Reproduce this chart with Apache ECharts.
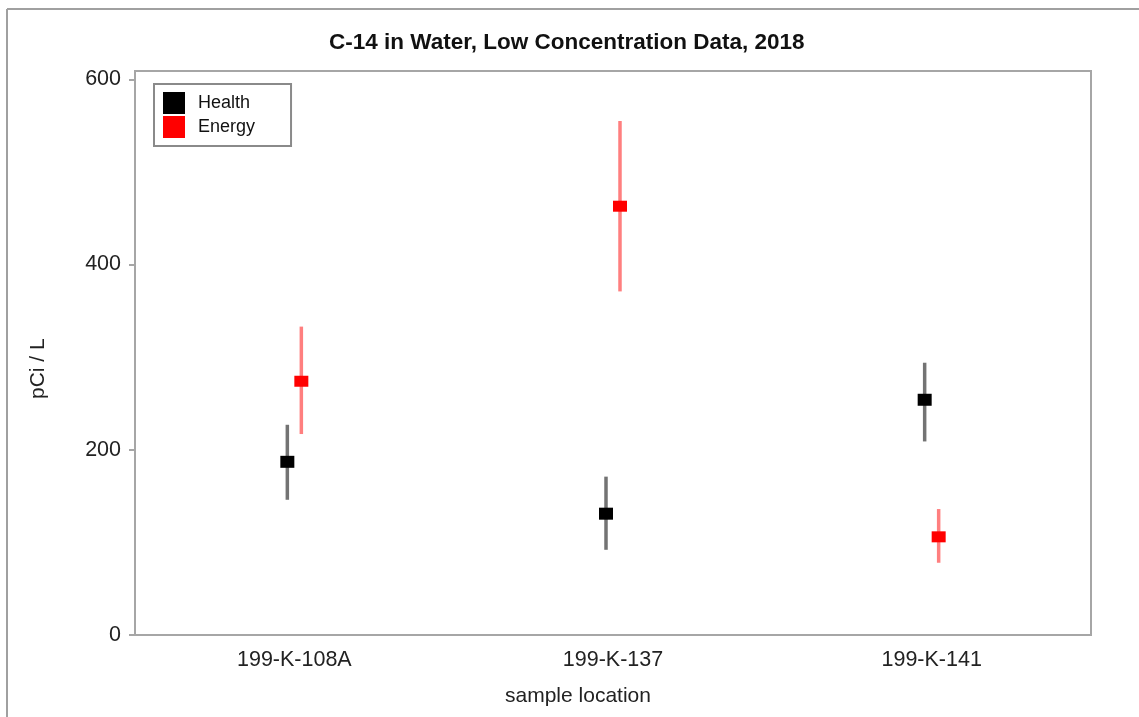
<!DOCTYPE html>
<html>
<head>
<meta charset="utf-8">
<script src="https://cdn.jsdelivr.net/npm/echarts@6/dist/echarts.min.js"></script>
<style>
html,body{margin:0;padding:0;background:#fff;}
#chart{width:1139px;height:717px;}
</style>
</head>
<body>
<div id="chart"></div>
<script>
const categories = ['199-K-108A', '199-K-137', '199-K-141'];
const healthValues = [187, 131, 254];
const healthLow = [146, 92, 209];
const healthHigh = [227, 171, 294];
const energyValues = [274, 463, 106];
const energyLow = [217, 371, 78];
const energyHigh = [333, 555, 136];
const yTicks = [0, 200, 400, 600];

const FONT = '"Liberation Sans", Arial, sans-serif';

function makeData(vals, lo, hi) {
  return vals.map((v, i) => [i, v, lo[i], hi[i]]);
}

function makeRender(offset, lineColor, fillColor, rectH) {
  return function (params, api) {
    const ci = api.value(0);
    const c = api.coord([ci, api.value(1)]);
    const lo = api.coord([ci, api.value(2)]);
    const hi = api.coord([ci, api.value(3)]);
    const x = c[0] + offset;
    return {
      type: 'group',
      children: [
        { type: 'line', shape: { x1: x, y1: hi[1], x2: x, y2: lo[1] },
          style: { stroke: lineColor, lineWidth: 3.5 } },
        { type: 'rect', shape: { x: x - 7, y: c[1] - rectH / 2, width: 14, height: rectH },
          style: { fill: fillColor } }
      ]
    };
  };
}

const chart = echarts.init(document.getElementById('chart'));
chart.setOption({
  animation: false,
  backgroundColor: '#fff',
  title: {
    text: 'C-14 in Water, Low Concentration Data, 2018',
    left: 324, top: 26,
    textStyle: { fontFamily: FONT, fontSize: 22.5, fontWeight: 'bold', color: '#111' }
  },
  legend: {
    orient: 'vertical',
    left: 154, top: 84,
    padding: [8, 36, 8, 9],
    itemWidth: 22, itemHeight: 22, itemGap: 2,
    borderColor: '#8a8a8a', borderWidth: 2,
    icon: 'rect',
    textStyle: { fontFamily: FONT, fontSize: 18, color: '#111', padding: [0, 0, 0, 8] },
    data: ['Health', 'Energy']
  },
  grid: {
    left: 135, top: 71, right: 48, bottom: 82,
    show: true, borderColor: '#a6a6a6', borderWidth: 2
  },
  xAxis: {
    type: 'category',
    data: categories,
    axisLine: { lineStyle: { color: '#a6a6a6', width: 2 } },
    axisTick: { alignWithLabel: true, length: 8, lineStyle: { color: '#a6a6a6', width: 2 } },
    axisLabel: { fontFamily: FONT, fontSize: 21.5, color: '#222', margin: 14 },
    splitLine: { show: false }
  },
  yAxis: {
    type: 'value',
    min: 0, max: 609, interval: 200,
    axisLine: { show: true, lineStyle: { color: '#a6a6a6', width: 2 } },
    axisTick: { show: true, length: 6, customValues: yTicks, lineStyle: { color: '#a6a6a6', width: 2 } },
    axisLabel: { fontFamily: FONT, fontSize: 21.5, color: '#222', margin: 14, customValues: yTicks,
      formatter: v => (yTicks.indexOf(v) >= 0 ? String(v) : '') },
    splitLine: { show: false }
  },
  graphic: [
    { type: 'line', shape: { x1: 7, y1: 9, x2: 1139, y2: 9 }, style: { stroke: '#a0a0a0', lineWidth: 2 } },
    { type: 'line', shape: { x1: 7, y1: 9, x2: 7, y2: 717 }, style: { stroke: '#a0a0a0', lineWidth: 2 } },
    { type: 'text', left: 505, top: 686,
      style: { text: 'sample location', font: '21px ' + FONT, fill: '#222' } },
    { type: 'text', x: 28, y: 399, rotation: Math.PI / 2,
      style: { text: 'pCi / L', font: '21px ' + FONT, fill: '#222' } }
  ],
  series: [
    {
      name: 'Health', type: 'custom',
      itemStyle: { color: '#000' },
      renderItem: makeRender(-7, 'rgba(0,0,0,0.55)', '#000', 12),
      data: makeData(healthValues, healthLow, healthHigh)
    },
    {
      name: 'Energy', type: 'custom',
      itemStyle: { color: '#ff0000' },
      renderItem: makeRender(7, 'rgba(255,0,0,0.5)', '#ff0000', 11),
      data: makeData(energyValues, energyLow, energyHigh)
    }
  ]
});
</script>
</body>
</html>
